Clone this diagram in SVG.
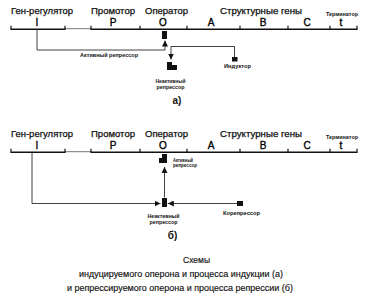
<svg xmlns="http://www.w3.org/2000/svg" width="371" height="298" viewBox="0 0 371 298">
<style>
.h{font-family:"Liberation Sans",Arial,sans-serif;font-size:9px;fill:#111;stroke:#111;stroke-width:0.25}
.l{font-family:"Liberation Sans",Arial,sans-serif;font-size:10px;fill:#000;stroke:#000;stroke-width:0.35;text-anchor:middle}
.s{font-family:"Liberation Sans",Arial,sans-serif;font-size:4.6px;font-weight:bold;fill:#111}
.sm{font-family:"Liberation Sans",Arial,sans-serif;font-size:4.6px;font-weight:bold;fill:#111;text-anchor:middle}
.c{font-family:"Liberation Sans",Arial,sans-serif;font-size:8.5px;fill:#111;stroke:#111;stroke-width:0.15;text-anchor:middle}
.p{font-family:"Liberation Sans",Arial,sans-serif;font-size:10px;font-weight:bold;fill:#111;text-anchor:middle}
.dna{stroke:#111;stroke-width:1.6;fill:none}
.dnat{stroke:#666;stroke-width:0.9;fill:none}
.tick{stroke:#111;stroke-width:1.2}
.con{stroke:#111;stroke-width:0.8;fill:none}
.blk{fill:#111}
</style>
<defs>
<marker id="ar" viewBox="0 0 6 6" refX="6" refY="3" markerWidth="6" markerHeight="6" markerUnits="userSpaceOnUse" orient="auto">
<path d="M0,0 L6,3 L0,6 z" fill="#111"/>
</marker>
</defs>

<g id="operon-a">
<line class="dna" x1="11" y1="29.2" x2="65" y2="29.2"/>
<line class="dnat" x1="65" y1="28.7" x2="91" y2="28.7"/>
<line class="dna" x1="91" y1="29.2" x2="357" y2="29.2"/>
<path class="tick" d="M11,30 V25.7 M65,30 V25.7 M91,30 V25.7 M140,30 V25.7 M187,30 V25.7 M240,30 V25.7 M288,30 V25.7 M330,30 V25.7 M357,30 V25.7"/>
<text class="h" x="11" y="13.5" textLength="62" lengthAdjust="spacingAndGlyphs">Ген-регулятор</text>
<text class="h" x="91" y="13.5" textLength="44" lengthAdjust="spacingAndGlyphs">Промотор</text>
<text class="h" x="145" y="13.5" textLength="43" lengthAdjust="spacingAndGlyphs">Оператор</text>
<text class="h" x="220" y="13.5" textLength="82" lengthAdjust="spacingAndGlyphs">Структурные гены</text>
<text class="s" x="326" y="16" textLength="32" lengthAdjust="spacingAndGlyphs">Терминатор</text>
<text class="l" x="37" y="26.4">I</text>
<text class="l" x="113" y="26.4">P</text>
<text class="l" x="163" y="26.4">O</text>
<text class="l" x="211" y="26.4">A</text>
<text class="l" x="263" y="26.4">B</text>
<text class="l" x="307" y="26.4">C</text>
<text class="l" x="341" y="26.4">t</text>
</g>

<g id="operon-b">
<line class="dna" x1="11" y1="152.2" x2="65" y2="152.2"/>
<line class="dnat" x1="65" y1="151.7" x2="91" y2="151.7"/>
<line class="dna" x1="91" y1="152.2" x2="357" y2="152.2"/>
<path class="tick" d="M11,153 V148.7 M65,153 V148.7 M91,153 V148.7 M140,153 V148.7 M187,153 V148.7 M240,153 V148.7 M288,153 V148.7 M330,153 V148.7 M357,153 V148.7"/>
<text class="h" x="11" y="136.5" textLength="62" lengthAdjust="spacingAndGlyphs">Ген-регулятор</text>
<text class="h" x="91" y="136.5" textLength="44" lengthAdjust="spacingAndGlyphs">Промотор</text>
<text class="h" x="145" y="136.5" textLength="43" lengthAdjust="spacingAndGlyphs">Оператор</text>
<text class="h" x="220" y="136.5" textLength="82" lengthAdjust="spacingAndGlyphs">Структурные гены</text>
<text class="s" x="326" y="139" textLength="32" lengthAdjust="spacingAndGlyphs">Терминатор</text>
<text class="l" x="37" y="149.4">I</text>
<text class="l" x="113" y="149.4">P</text>
<text class="l" x="163" y="149.4">O</text>
<text class="l" x="211" y="149.4">A</text>
<text class="l" x="263" y="149.4">B</text>
<text class="l" x="307" y="149.4">C</text>
<text class="l" x="341" y="149.4">t</text>
</g>

<g id="connectors">
<polyline class="con" points="37,30 37,50 165,50 165,40.5" marker-end="url(#ar)"/>
<polyline class="con" points="234.5,57 234.5,46.5 171,46.5 171,59.5" marker-end="url(#ar)"/>
<polyline class="con" points="32,153 32,203.5 160.5,203.5" marker-end="url(#ar)"/>
<line class="con" x1="237" y1="203.5" x2="167.8" y2="203.5" marker-end="url(#ar)"/>
<line class="con" x1="164.5" y1="197.5" x2="164.5" y2="167" marker-end="url(#ar)"/>
</g>

<g id="active-repressor-a">
<rect class="blk" x="162" y="31" width="5" height="8"/>
<text class="sm" x="109" y="56.5" textLength="58" lengthAdjust="spacingAndGlyphs">Активный репрессор</text>
</g>
<g id="inducer-a">
<rect class="blk" x="232" y="57" width="5.5" height="4.5"/>
<text class="sm" x="237.5" y="68" textLength="27" lengthAdjust="spacingAndGlyphs">Индуктор</text>
</g>
<g id="inactive-repressor-a">
<polygon class="blk" points="167,62 172,62 172,65 177,65 177,70 167,70"/>
<text class="sm" x="170.5" y="83" textLength="30" lengthAdjust="spacingAndGlyphs">Неактивный</text>
<text class="sm" x="170.5" y="89" textLength="28" lengthAdjust="spacingAndGlyphs">репрессор</text>
</g>
<g id="label-a"><text class="p" x="177" y="104">а)</text></g>

<g id="active-repressor-b">
<polygon class="blk" points="162,154 167,154 167,163 159,163 159,158 162,158"/>
<text class="s" x="173" y="162" textLength="20" lengthAdjust="spacingAndGlyphs">Активный</text>
<text class="s" x="173" y="167" textLength="24" lengthAdjust="spacingAndGlyphs">репрессор</text>
</g>
<g id="inactive-repressor-b">
<rect class="blk" x="162" y="198" width="5" height="9"/>
<text class="sm" x="163.5" y="218" textLength="32" lengthAdjust="spacingAndGlyphs">Неактивный</text>
<text class="sm" x="163.5" y="224" textLength="28" lengthAdjust="spacingAndGlyphs">репрессор</text>
</g>
<g id="corepressor-b">
<rect class="blk" x="237" y="201" width="6" height="5"/>
<text class="sm" x="241.5" y="215" textLength="37" lengthAdjust="spacingAndGlyphs">Корепрессор</text>
</g>
<g id="label-b"><text class="p" x="172.5" y="239">б)</text></g>

<g id="caption">
<text class="c" x="196.5" y="263" textLength="27" lengthAdjust="spacingAndGlyphs">Схемы</text>
<text class="c" x="181" y="277" textLength="204" lengthAdjust="spacingAndGlyphs">индуцируемого оперона и процесса индукции (а)</text>
<text class="c" x="180" y="290.5" textLength="226" lengthAdjust="spacingAndGlyphs">и репрессируемого оперона и процесса репрессии (б)</text>
</g>
</svg>
